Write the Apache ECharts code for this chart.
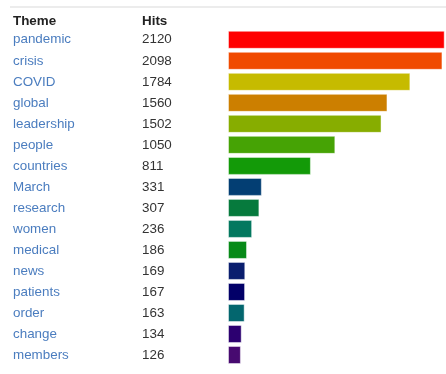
<!DOCTYPE html>
<html><head><meta charset="utf-8">
<script src="https://cdn.jsdelivr.net/npm/echarts@6/dist/echarts.min.js"></script>
<style>html,body{margin:0;padding:0;background:#fff}#c{width:446px;height:374px}</style>
</head><body><div id="c"></div>
<script>
const themes = ['pandemic','crisis','COVID','global','leadership','people','countries','March','research','women','medical','news','patients','order','change','members'];
const hits = [2120,2098,1784,1560,1502,1050,811,331,307,236,186,169,167,163,134,126];
const barColors = ['#ff0000','#f04a00','#c6bb00','#cc7f00','#87ad00','#46a305','#139a08','#033e73','#067a3d','#03785f','#078a18','#0a1e6e','#020068','#03666e','#2c0070','#470a70'];
const headers = ['Theme','Hits'];

const chart = echarts.init(document.getElementById('c'));
chart.setOption({
  animation:false,
  grid:{left:228,right:1.3,top:29.3,bottom:8.5},
  xAxis:{type:'value',min:0,max:2120,show:false},
  yAxis:{type:'category',inverse:true,data:themes,
    axisLine:{show:false},axisTick:{show:false},
    axisLabel:{align:'left',margin:215,
      formatter:(v,i)=>'{a|'+v+'}{b|'+hits[i]+'}',
      rich:{a:{width:129,color:'#4b7dbf',fontSize:13.4,fontFamily:'Liberation Sans, Arial'},
            b:{color:'#333',fontSize:13.4,fontFamily:'Liberation Sans, Arial'}}}},
  graphic:[
    {type:'line',shape:{x1:10,y1:7,x2:446,y2:7},style:{stroke:'#e6e6e6',lineWidth:1.5}},
    {type:'text',left:13,top:14.5,style:{text:headers[0],font:'bold 13.4px Liberation Sans, Arial',fill:'#222'}},
    {type:'text',left:142,top:14.5,style:{text:headers[1],font:'bold 13.4px Liberation Sans, Arial',fill:'#222'}}
  ],
  series:[{type:'bar',barWidth:18,
    data:hits.map((v,i)=>({value:v,itemStyle:{color:barColors[i]}})),
    itemStyle:{borderColor:'rgba(255,255,255,0.45)',borderWidth:1}}]
});
</script></body></html>
